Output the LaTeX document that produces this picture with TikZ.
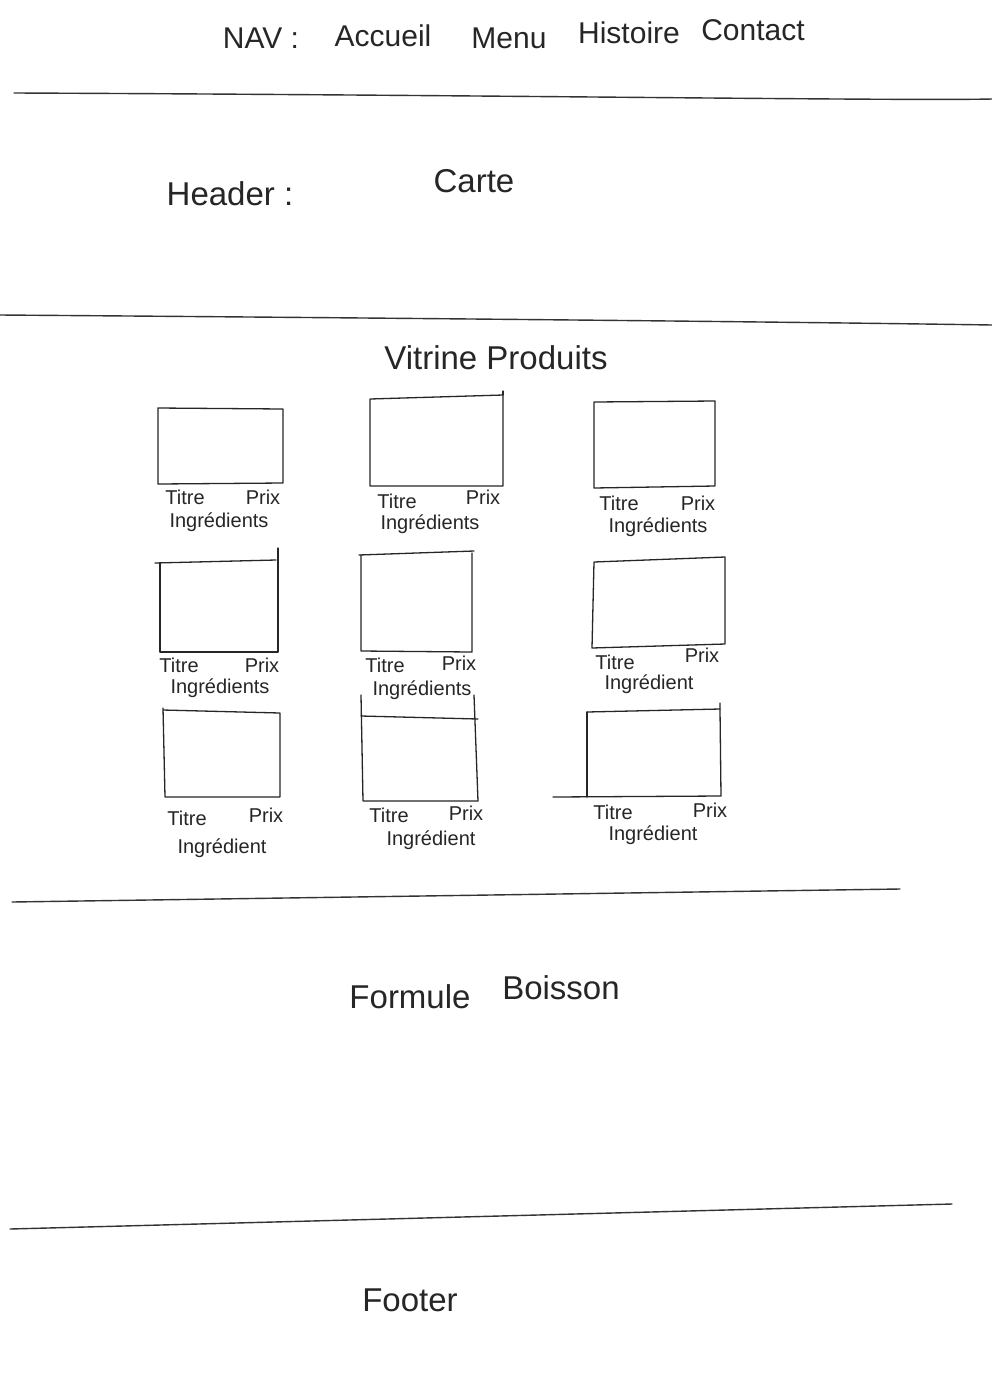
\documentclass[tikz,border=0pt]{standalone}
\usepackage{fontspec}
\setmainfont{Liberation Sans}
\begin{document}
\begin{tikzpicture}[x=1pt,y=-1pt,
  ink/.style={draw=black!85,line width=1.3pt,line cap=round,line join=round},
  sep/.style={draw=black!80,line width=1.4pt,line cap=round},
  big/.style={font=\fontsize{30}{36}\selectfont,text=black!85,inner sep=0pt},
  title/.style={font=\fontsize{33}{40}\selectfont,text=black!85,inner sep=0pt},
  lbl/.style={font=\fontsize{20}{24}\selectfont,text=black!85,inner sep=0pt}]
\useasboundingbox (0,0) rectangle (992,1393);
\fill[white] (0,0) rectangle (992,1393);

% navigation bar
\node[big] (nav) at (261,38) {NAV :};
\node[big] (accueil) at (383,36) {Accueil};
\node[big] (menu) at (509,38) {Menu};
\node[big] (histoire) at (629,33) {Histoire};
\node[big] (contact) at (753,30) {Contact};

% section separators
\coordinate (s1a) at (14,93);  \coordinate (s1b) at (992,99);
\coordinate (s2a) at (0,315);  \coordinate (s2b) at (992,325);
\coordinate (s3a) at (12,902); \coordinate (s3b) at (900,889);
\coordinate (s4a) at (10,1229);\coordinate (s4b) at (952,1204);
\draw[sep] (s1a) .. controls (500,95) and (900,101) .. (s1b);
\draw[sep] (s2a) .. controls (400,318) and (800,322) .. (s2b);
\draw[sep] (s3a) -- (s3b);
\draw[sep] (s4a) -- (s4b);

% header
\node[title] (header) at (230,194) {Header :};
\node[title] (carte) at (474,181) {Carte};

% product showcase
\node[title] (vitrine) at (496,358) {Vitrine Produits};

% row 1
\draw[ink] (158,408) -- (283,409) -- (283,483) -- (158,484) -- cycle;
\draw[ink] (370,399) -- (503,395) -- (503,486) -- (370,486) -- cycle;
\draw[ink] (503,395) -- (503,391);
\draw[ink] (594,402) -- (715,401) -- (715,486) -- (594,488) -- cycle;
% row 2
\draw[ink] (155,563) -- (276,560);
\draw[ink] (160,563) -- (160,652) -- (278,652) -- (278,548);
\draw[ink] (359,555) -- (474,551);
\draw[ink] (361,555) -- (361,651) -- (472,652) -- (472,553);
\draw[ink] (594,562) -- (725,557) -- (725,644) -- (592,648) -- cycle;
% row 3
\draw[ink] (163,710) -- (280,713) -- (280,797) -- (165,797) -- (163,708);
\draw[ink] (361,695) -- (363,801) -- (478,801) -- (474,695);
\draw[ink] (361,716) -- (478,719);
\draw[ink] (587,712) -- (720,709) -- (720,703);
\draw[ink] (720,709) -- (721,796) -- (553,797);
\draw[ink] (587,712) -- (587,797);

% card labels, row 1
\node[lbl] (t11) at (185,497) {Titre};
\node[lbl] (p11) at (263,497) {Prix};
\node[lbl] (i11) at (219,522) {Ingrédients};
\node[lbl] (t12) at (397,501) {Titre};
\node[lbl] (p12) at (483,497) {Prix};
\node[lbl] (i12) at (430,524) {Ingrédients};
\node[lbl] (t13) at (619,503) {Titre};
\node[lbl] (p13) at (698,503) {Prix};
\node[lbl] (i13) at (658,527) {Ingrédients};
% card labels, row 2
\node[lbl] (t21) at (179,665) {Titre};
\node[lbl] (p21) at (262,665) {Prix};
\node[lbl] (i21) at (220,688) {Ingrédients};
\node[lbl] (t22) at (385,665) {Titre};
\node[lbl] (p22) at (459,663) {Prix};
\node[lbl] (i22) at (422,690) {Ingrédients};
\node[lbl] (t23) at (615,662) {Titre};
\node[lbl] (p23) at (702,655) {Prix};
\node[lbl] (i23) at (649,684) {Ingrédient};
% card labels, row 3
\node[lbl] (t31) at (187,818) {Titre};
\node[lbl] (p31) at (266,815) {Prix};
\node[lbl] (i31) at (222,848) {Ingrédient};
\node[lbl] (t32) at (389,815) {Titre};
\node[lbl] (p32) at (466,813) {Prix};
\node[lbl] (i32) at (431,840) {Ingrédient};
\node[lbl] (t33) at (613,812) {Titre};
\node[lbl] (p33) at (710,810) {Prix};
\node[lbl] (i33) at (653,835) {Ingrédient};

% drinks and footer
\node[title] (formule) at (410,997) {Formule};
\node[title] (boisson) at (561,988) {Boisson};
\node[title] (footer) at (410,1300) {Footer};
\end{tikzpicture}
\end{document}
